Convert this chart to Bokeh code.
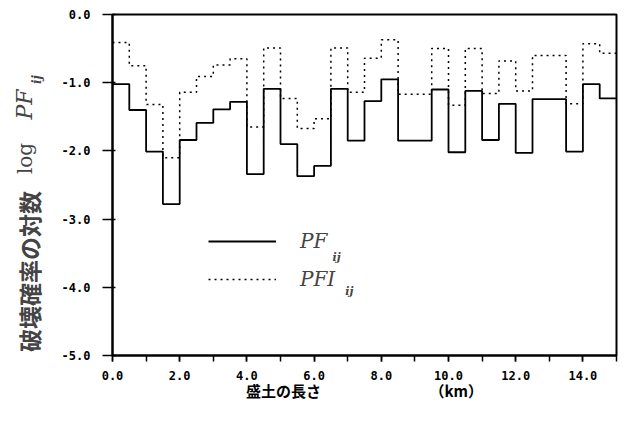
import math
from bokeh.plotting import figure
from bokeh.layouts import row
from bokeh.models import (Range1d, SingleIntervalTicker, PrintfTickFormatter,
                          Legend, LegendItem, Label)
from bokeh.embed import file_html
from bokeh.resources import INLINE

# ---- data ----
seg_km = [0.0, 0.5, 1.0, 1.5, 2.0, 2.5, 3.0, 3.5, 4.0, 4.5,
          5.0, 5.5, 6.0, 6.5, 7.0, 7.5, 8.0, 8.5, 9.0, 9.5,
          10.0, 10.5, 11.0, 11.5, 12.0, 12.5, 13.0, 13.5, 14.0, 14.5]
end_km = 15.0
log_pf = [-1.02, -1.40, -2.01, -2.78, -1.84, -1.59, -1.39, -1.28, -2.34, -1.09,
          -1.90, -2.37, -2.22, -1.09, -1.85, -1.27, -0.95, -1.85, -1.85, -1.10,
          -2.02, -1.12, -1.84, -1.31, -2.03, -1.24, -1.24, -2.01, -1.02, -1.23]
log_pfi = [-0.41, -0.75, -1.32, -2.10, -1.14, -0.91, -0.74, -0.65, -1.65, -0.49,
           -1.23, -1.67, -1.53, -0.49, -1.14, -0.64, -0.37, -1.17, -1.17, -0.50,
           -1.33, -0.50, -1.16, -0.68, -1.12, -0.60, -0.60, -1.31, -0.43, -0.57]
series_names = ["PF", "PFI"]
subscript = "ij"
y_title_jp = "破壊確率の対数"
y_title_log = "log"
x_title = "盛土の長さ　　　　　　　 （km）"

xs = seg_km + [end_km]
ys_pf = log_pf + [log_pf[-1]]
ys_pfi = log_pfi + [log_pfi[-1]]

TOTAL_H = 419
TITLE_W = 45
SERIF = "DejaVu Serif"

# ---- narrow strip on the left holding the rotated y-axis title ----
t = figure(frame_width=TITLE_W, frame_height=TOTAL_H, output_backend="svg",
           toolbar_location=None, x_range=Range1d(0, TITLE_W),
           y_range=Range1d(TOTAL_H, 0), x_axis_location=None,
           y_axis_location=None, min_border=0, title=None)
t.min_border_left = t.min_border_right = t.min_border_top = t.min_border_bottom = 0
t.grid.visible = False
t.outline_line_color = None
t.background_fill_color = "white"
t.border_fill_color = "white"
rot = math.pi / 2
t.add_layout(Label(x=28.5, y=257, text=y_title_jp, angle=rot,
                   text_font="Noto Sans CJK JP", text_font_style="bold",
                   text_font_size="23px", text_align="center",
                   text_baseline="middle"))
t.add_layout(Label(x=24, y=144, text=y_title_log, angle=rot,
                   text_font=SERIF, text_font_size="20px",
                   text_align="center", text_baseline="middle"))
t.add_layout(Label(x=24, y=90, text=series_names[0], angle=rot,
                   text_font=SERIF, text_font_style="italic",
                   text_font_size="22px", text_align="center",
                   text_baseline="middle"))
t.add_layout(Label(x=36, y=65, text=subscript, angle=rot,
                   text_font=SERIF, text_font_style="bold italic",
                   text_font_size="12px", text_align="center",
                   text_baseline="middle"))

# ---- main chart ----
p = figure(width=619 - TITLE_W, height=TOTAL_H, output_backend="svg",
           toolbar_location=None,
           x_range=Range1d(0, 15), y_range=Range1d(-5, 0),
           min_border_left=112 - TITLE_W, min_border_right=3, min_border_top=14,
           min_border_bottom=64)
p.grid.visible = False
p.background_fill_color = "white"
p.border_fill_color = "white"
p.outline_line_color = "black"
p.outline_line_width = 2

r_pf = p.step(xs, ys_pf, mode="after", line_color="black", line_width=1.8)
r_pfi = p.step(xs, ys_pfi, mode="after", line_color="black", line_width=1.5,
               line_dash="2 4")

tick_font = "DejaVu Sans Mono"
# x axis
xa = p.xaxis[0]
xa.ticker = SingleIntervalTicker(interval=2, num_minor_ticks=2)
xa.formatter = PrintfTickFormatter(format="%.1f")
xa.major_tick_in = 0
xa.major_tick_out = 6
xa.minor_tick_in = 0
xa.minor_tick_out = 6
xa.major_tick_line_width = 1.5
xa.minor_tick_line_width = 1.5
xa.axis_line_width = 2
xa.major_label_standoff = 9
xa.major_label_text_font = tick_font
xa.major_label_text_font_style = "bold"
xa.major_label_text_font_size = "12px"
xa.major_label_text_color = "black"
xa.axis_label = x_title
xa.axis_label_text_font = "Noto Sans CJK JP"
xa.axis_label_text_font_style = "bold"
xa.axis_label_text_font_size = "15px"
xa.axis_label_text_color = "black"
xa.axis_label_standoff = -3

# y axis
ya = p.yaxis[0]
ya.ticker = SingleIntervalTicker(interval=1, num_minor_ticks=0)
ya.formatter = PrintfTickFormatter(format="%.1f")
ya.major_tick_in = 3
ya.major_tick_out = 10
ya.minor_tick_out = 0
ya.minor_tick_in = 0
ya.major_tick_line_width = 1.5
ya.axis_line_width = 2
ya.major_label_standoff = 12
ya.major_label_text_font = tick_font
ya.major_label_text_font_style = "bold"
ya.major_label_text_font_size = "12px"
ya.major_label_text_color = "black"

# legend
legend = Legend(items=[LegendItem(label=series_names[0], renderers=[r_pf]),
                       LegendItem(label=series_names[1], renderers=[r_pfi])],
                location=(96, 64), glyph_width=68, glyph_height=20,
                label_height=20, spacing=14, padding=0, margin=0,
                label_standoff=24, border_line_color=None,
                background_fill_alpha=0,
                label_text_font=SERIF,
                label_text_font_style="italic",
                label_text_font_size="20px")
p.add_layout(legend)

# subscripts for the legend labels
p.add_layout(Label(x=6.55, y=-3.563, text=subscript, text_font=SERIF,
                   text_font_style="bold italic", text_font_size="11px",
                   text_baseline="alphabetic"))
p.add_layout(Label(x=6.93, y=-4.06, text=subscript, text_font=SERIF,
                   text_font_style="bold italic", text_font_size="11px",
                   text_baseline="alphabetic"))

layout = row(t, p, spacing=0)
open("out.html", "w").write(file_html(layout, INLINE))
